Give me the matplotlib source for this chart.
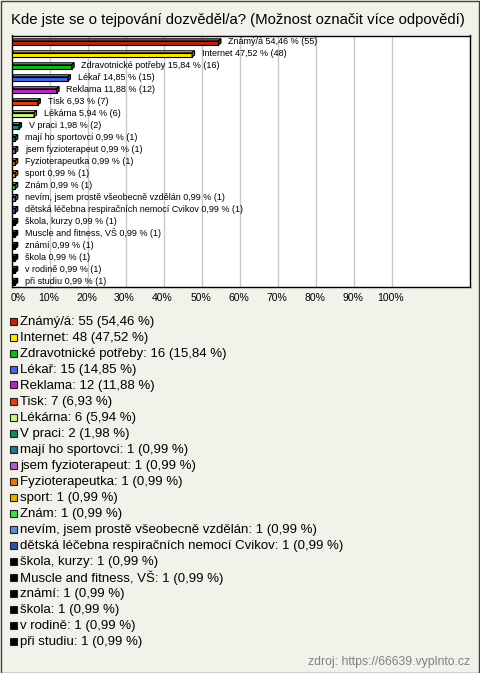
import matplotlib
matplotlib.use("Agg")
import matplotlib.pyplot as plt
from matplotlib.patches import Polygon, Rectangle
from matplotlib.colors import to_rgb

plt.rcParams['font.family'] = ['Liberation Sans', 'DejaVu Sans']

title = "Kde jste se o tejpování dozvěděl/a? (Možnost označit více odpovědí)"
source = "zdroj: https://66639.vyplnto.cz"

categories = ["Známý/á", "Internet", "Zdravotnické potřeby", "Lékař", "Reklama",
              "Tisk", "Lékárna", "V praci", "mají ho sportovci",
              "jsem fyzioterapeut", "Fyzioterapeutka", "sport", "Znám",
              "nevím, jsem prostě všeobecně vzdělán",
              "dětská léčebna respiračních nemocí Cvikov", "škola, kurzy",
              "Muscle and fitness, VŠ", "známí", "škola", "v rodině", "při studiu"]
counts = [55, 48, 16, 15, 12, 7, 6, 2, 1, 1, 1, 1, 1, 1, 1, 1, 1, 1, 1, 1, 1]
percents = [54.46, 47.52, 15.84, 14.85, 11.88, 6.93, 5.94, 1.98, 0.99, 0.99,
            0.99, 0.99, 0.99, 0.99, 0.99, 0.99, 0.99, 0.99, 0.99, 0.99, 0.99]
colors = ["#C0220C", "#FFE800", "#10C010", "#4466E8", "#C020D0", "#E04010",
          "#C8F880", "#108C5C", "#20788C", "#B060C0", "#E07818", "#E0B000",
          "#40E040", "#6090E0", "#3050B0", "#000000", "#000000", "#000000",
          "#000000", "#000000", "#000000"]
xticks = [0, 10, 20, 30, 40, 50, 60, 70, 80, 90, 100]

W, H = 480, 673
bg = "#F3F2EA"


def fx(px):
    return px / W


def fy(py):
    return 1 - py / H


def shade(c, f):
    r, g, b = to_rgb(c)
    if f > 1:
        return (r + (1 - r) * (f - 1), g + (1 - g) * (f - 1), b + (1 - b) * (f - 1))
    return (r * f, g * f, b * f)


fig = plt.figure(figsize=(W / 100, H / 100), dpi=100, facecolor=bg)

# outer border
fig.patches.append(Rectangle((0.5 / W, 0.5 / H), 1 - 1.5 / W, 1 - 1.5 / H,
                             transform=fig.transFigure, fill=False,
                             edgecolor="#404040", linewidth=1))

fig.text(fx(11), fy(20), title, fontsize=10.75, ha="left", va="center", color="#000000")

ax_l, ax_r, ax_t, ax_b = 11.5, 470, 35.5, 287
ax = fig.add_axes([fx(ax_l), fy(ax_b), fx(ax_r - ax_l), (ax_b - ax_t) / H])
ax.set_facecolor("white")
px_per_pct = 3.8
ax.set_xlim(0, (ax_r - ax_l) / px_per_pct)
n = len(categories)
ax.set_ylim(n - 0.5, -0.5)
for s in ax.spines.values():
    s.set_color("black")
    s.set_linewidth(1)

for t in xticks[1:]:
    ax.axvline(t, color="#C8C8C8", linewidth=1, zorder=0)

row_px = (ax_b - ax_t) / n
dx = 2.5 / px_per_pct
dy = 2.0 / row_px
h = 4.2 / row_px
for i, (p, c) in enumerate(zip(percents, colors)):
    y0 = i + 0.12
    ax.add_patch(Rectangle((0, y0 - h / 2), p, h, facecolor=c, edgecolor="black",
                           linewidth=0.8, zorder=3))
    top = [(0, y0 - h / 2), (p, y0 - h / 2), (p + dx, y0 - h / 2 - dy), (dx, y0 - h / 2 - dy)]
    ax.add_patch(Polygon(top, closed=True, facecolor=shade(c, 1.35), edgecolor="black",
                         linewidth=0.8, zorder=3))
    side = [(p, y0 - h / 2), (p, y0 + h / 2), (p + dx, y0 + h / 2 - dy), (p + dx, y0 - h / 2 - dy)]
    ax.add_patch(Polygon(side, closed=True, facecolor=shade(c, 0.6), edgecolor="black",
                         linewidth=0.8, zorder=3))
    lab = f"{categories[i]} {percents[i]:.2f} % ({counts[i]})".replace(".", ",")
    ax.annotate(lab, (p, i), xytext=(7, 0), textcoords="offset points",
                fontsize=6.5, ha="left", va="center", zorder=4)

ax.set_xticks([])
ax.set_yticks([])
for t in xticks:
    xp = ax_l + t * px_per_pct
    if t == 0:
        fig.text(fx(11), fy(298), f"{t}%", fontsize=7.5, ha="left", va="center")
    else:
        fig.text(fx(xp - 1), fy(298), f"{t}%", fontsize=7.5, ha="center", va="center")

# legend
for i, (cat, cnt, p, c) in enumerate(zip(categories, counts, percents, colors)):
    yp = 322 + 16 * i
    fig.patches.append(Rectangle((fx(9.5), fy(yp + 2.5)), 7 / W, 7 / H,
                                 transform=fig.transFigure, facecolor=c,
                                 edgecolor="#202020", linewidth=0.8))
    txt = f"{cat}: {cnt} ({p:.2f} %)".replace(".", ",")
    fig.text(fx(20), fy(yp), txt, fontsize=9.5, ha="left", va="center")

fig.text(fx(470), fy(662), source, fontsize=8.8, ha="right", va="center", color="#808080")

fig.savefig("out.png", dpi=100, facecolor=bg)
